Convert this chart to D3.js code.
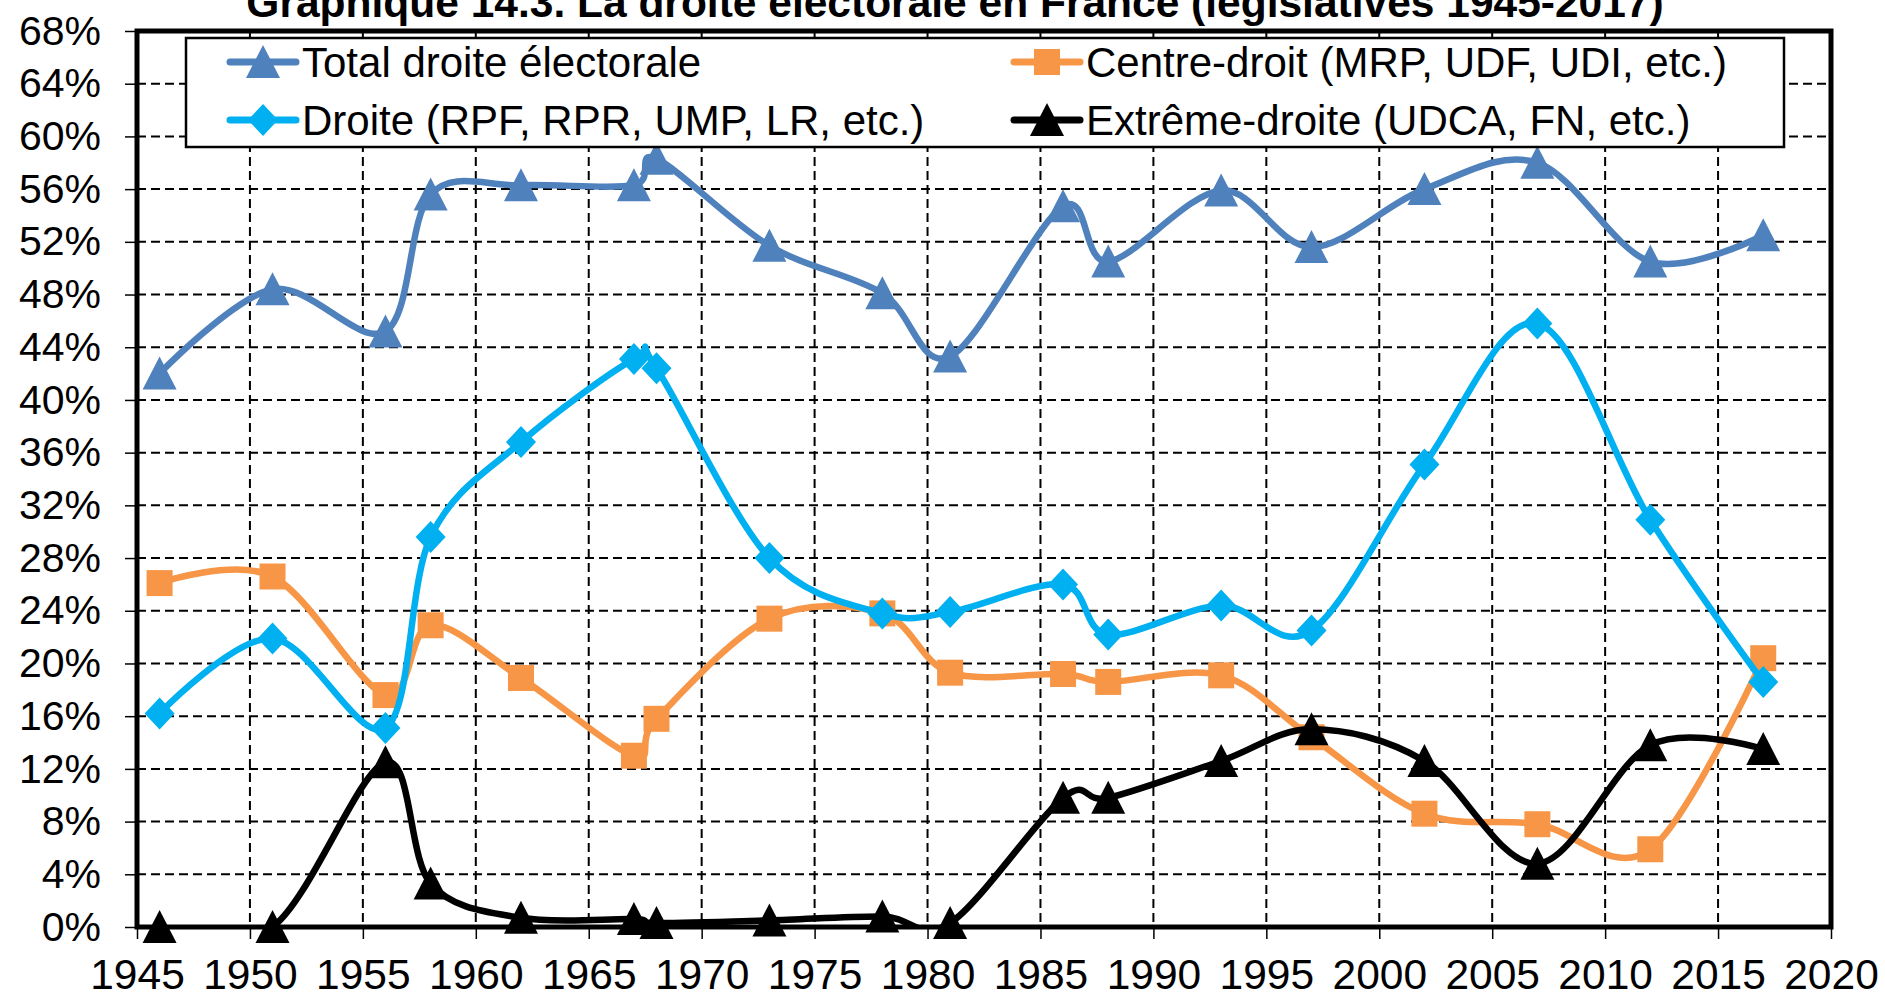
<!DOCTYPE html>
<html>
<head>
<meta charset="utf-8">
<script src="https://cdn.jsdelivr.net/npm/d3@7"></script>
<style>
  body { margin: 0; background: #fff; }
  svg text { font-family: "Liberation Sans", Arial, sans-serif; }
</style>
</head>
<body>
<div id="chart"></div>
<script>
// Election years (legislatives)
const years = [1946, 1951, 1956, 1958, 1962, 1967, 1968, 1973, 1978, 1981, 1986, 1988, 1993, 1997, 2002, 2007, 2012, 2017];

// Vote shares in %
const totalDroite = [42.0, 48.4, 45.2, 55.6, 56.3, 56.3, 58.3, 51.7, 48.1, 43.3, 54.7, 50.5, 55.9, 51.6, 56.0, 58.0, 50.5, 52.5];
const centreDroit = [26.1, 26.6, 17.6, 22.9, 18.9, 13.0, 15.8, 23.4, 23.8, 19.3, 19.2, 18.6, 19.1, 14.4, 8.6, 7.8, 5.9, 20.4];
const droite = [16.2, 21.9, 15.1, 29.6, 36.8, 43.1, 42.4, 28.0, 23.8, 23.9, 26.0, 22.2, 24.4, 22.5, 35.1, 45.8, 30.9, 18.6];
const extremeDroite = [0.0, 0.0, 12.5, 3.3, 0.7, 0.6, 0.3, 0.5, 0.8, 0.3, 9.8, 9.8, 12.6, 15.0, 12.6, 4.8, 13.8, 13.5];

const yTicks = d3.range(0, 69, 4);
const xTicks = d3.range(1945, 2021, 5);

const title = "Graphique 14.3. La droite électorale en France (législatives 1945-2017)";

const series = [
    { name: "Total droite électorale", values: totalDroite, color: "#4F81BD", marker: "triangle" },
    { name: "Centre-droit (MRP, UDF, UDI, etc.)", values: centreDroit, color: "#F79646", marker: "square" },
    { name: "Droite (RPF, RPR, UMP, LR, etc.)", values: droite, color: "#00B0F0", marker: "diamond" },
    { name: "Extrême-droite (UDCA, FN, etc.)", values: extremeDroite, color: "#000000", marker: "triangle" }
];

const width = 1885, height = 998;
const plotL = 137, plotR = 1831, plotT = 31, plotB = 927;

const svg = d3.select("#chart").append("svg").attr("width", width).attr("height", height);

const x = d3.scaleLinear().domain([1945, 2020]).range([plotL, plotR]);
const y = d3.scaleLinear().domain([0, 68]).range([plotB, plotT]);

// lines are clipped to the plot area (markers are not)
svg.append("clipPath").attr("id", "plotClip").append("rect")
    .attr("x", plotL).attr("y", plotT).attr("width", plotR - plotL).attr("height", plotB - plotT);

// title (cut off at the top like the original)
svg.append("text").attr("x", 955).attr("y", 17)
    .attr("text-anchor", "middle").attr("font-size", 42.5).attr("font-weight", "bold")
    .text(title);

// grid
svg.append("g").selectAll("line").data(yTicks.filter(d => d > 0 && d < 68)).join("line")
    .attr("x1", plotL).attr("x2", plotR).attr("y1", d => y(d)).attr("y2", d => y(d))
    .attr("stroke", "#000").attr("stroke-width", 2).attr("stroke-dasharray", "9,5");
svg.append("g").selectAll("line").data(xTicks.filter(d => d > 1945 && d < 2020)).join("line")
    .attr("y1", plotT).attr("y2", plotB).attr("x1", d => x(d)).attr("x2", d => x(d))
    .attr("stroke", "#000").attr("stroke-width", 2).attr("stroke-dasharray", "9,5");

// axes
const yAxis = d3.axisLeft(y).tickValues(yTicks).tickFormat(d => d + "%").tickSize(12).tickPadding(36 - 12);
const xAxis = d3.axisBottom(x).tickValues(xTicks).tickSize(12).tickPadding(20).tickFormat(d3.format("d"));

const gy = svg.append("g").attr("transform", `translate(${plotL},0)`).call(yAxis);
const gx = svg.append("g").attr("transform", `translate(0,${plotB})`).call(xAxis);
[gx, gy].forEach(g => {
    g.select(".domain").remove();
    g.selectAll("line").attr("stroke", "#000").attr("stroke-width", 1.5);
    g.selectAll("text").attr("fill", "#000")
        .style("font-family", '"Liberation Sans", Arial, sans-serif');
});
gy.selectAll("text").attr("font-size", 41);
gx.selectAll("text").attr("font-size", 42.5);

// plot border
svg.append("rect").attr("x", plotL).attr("y", plotT).attr("width", plotR - plotL).attr("height", plotB - plotT)
    .attr("fill", "none").attr("stroke", "#000").attr("stroke-width", 5);

function markerPath(type) {
    if (type === "triangle") return "M0,-17L17,16L-17,16Z";
    if (type === "square") return "M-13,-13H13V13H-13Z";
    return "M0,-16L15,0L0,16L-15,0Z";
}

const line = d3.line().x((d, i) => x(years[i])).y(d => y(d)).curve(d3.curveCardinal.tension(0));

const plot = svg.append("g");
series.forEach(s => {
    const g = plot.append("g");
    g.append("path").attr("d", line(s.values)).attr("fill", "none")
        .attr("clip-path", "url(#plotClip)")
        .attr("stroke", s.color).attr("stroke-width", 6.5)
        .attr("stroke-linecap", "round").attr("stroke-linejoin", "round");
    g.selectAll("path.m").data(s.values).join("path").attr("class", "m")
        .attr("transform", (d, i) => `translate(${x(years[i])},${y(d)})`)
        .attr("d", markerPath(s.marker)).attr("fill", s.color);
});

// legend
const legend = svg.append("g");
legend.append("rect").attr("x", 186).attr("y", 38).attr("width", 1598).attr("height", 109)
    .attr("fill", "#fff").attr("stroke", "#000").attr("stroke-width", 2.5);
const legPos = [[230, 62], [1014, 62], [230, 120], [1014, 120]];
series.forEach((s, i) => {
    const [lx, ly] = legPos[i];
    legend.append("line").attr("x1", lx).attr("x2", lx + 66).attr("y1", ly).attr("y2", ly)
        .attr("stroke", s.color).attr("stroke-width", 7).attr("stroke-linecap", "round");
    legend.append("path").attr("transform", `translate(${lx + 33},${ly})`)
        .attr("d", markerPath(s.marker)).attr("fill", s.color);
    legend.append("text").attr("x", lx + 72).attr("y", ly + 15).attr("font-size", 42).text(s.name);
});
</script>
</body>
</html>
